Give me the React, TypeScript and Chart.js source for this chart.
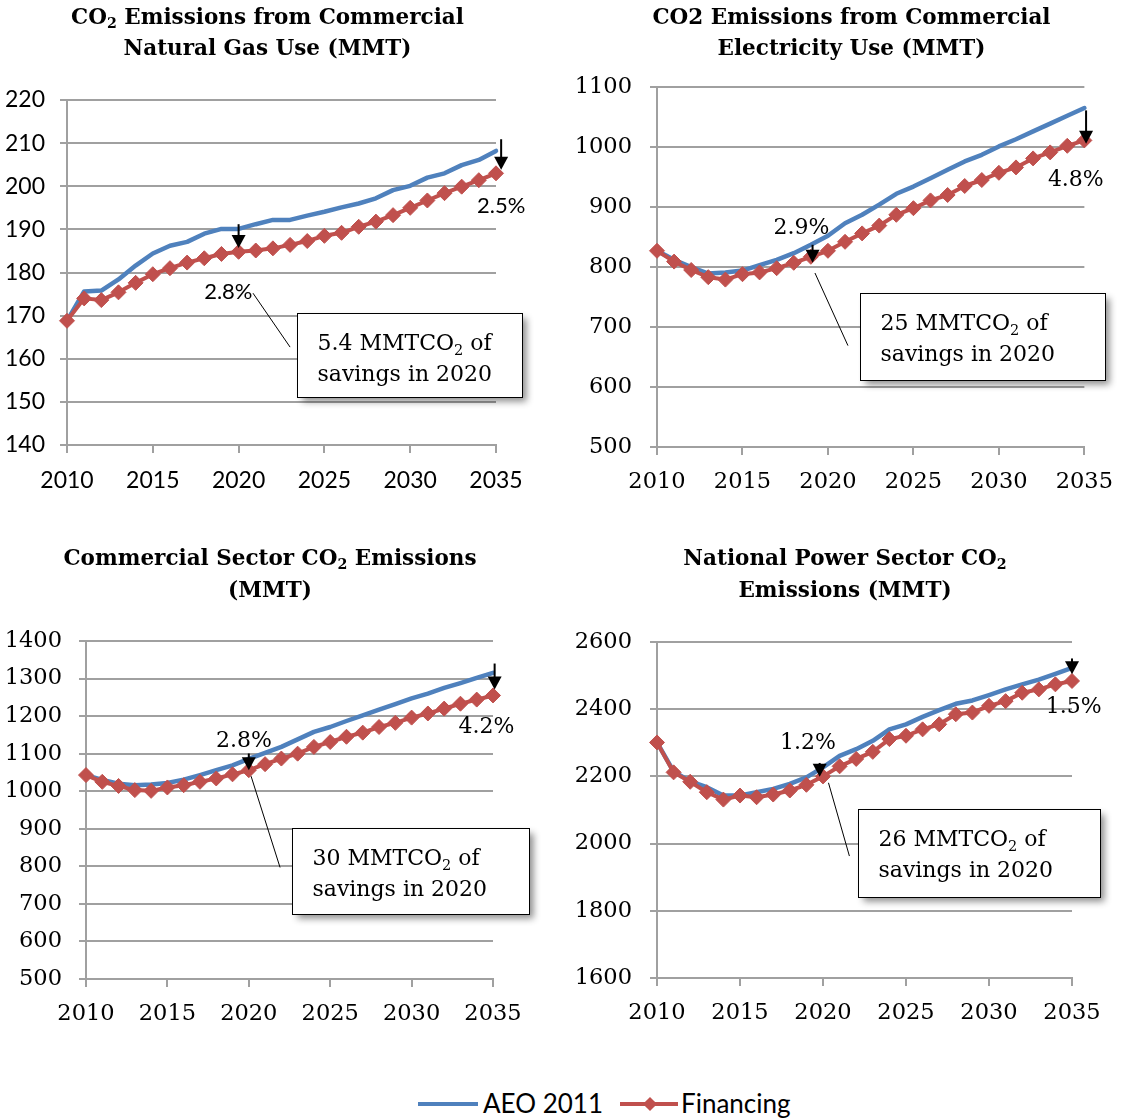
import React, { useEffect, useRef } from 'react';
import { Chart, registerables } from 'chart.js';

Chart.register(...registerables);

// ---------------- data ----------------
const YEARS = [2010, 2011, 2012, 2013, 2014, 2015, 2016, 2017, 2018, 2019, 2020, 2021, 2022, 2023, 2024, 2025, 2026, 2027, 2028, 2029, 2030, 2031, 2032, 2033, 2034, 2035];

const NG_AEO = [168.8, 175.6, 175.8, 178.4, 181.6, 184.4, 186.2, 187.1, 189.0, 190.1, 190.1, 191.2, 192.2, 192.2, 193.2, 194.1, 195.1, 196.0, 197.2, 199.1, 200.1, 202.0, 203.0, 204.9, 206.1, 208.2];
const NG_FIN = [168.8, 174.0, 173.6, 175.4, 177.6, 179.6, 181.0, 182.3, 183.3, 184.3, 184.8, 185.1, 185.6, 186.4, 187.3, 188.5, 189.2, 190.6, 191.8, 193.3, 195.0, 196.7, 198.4, 199.9, 201.4, 203.0];

const EL_AEO = [827, 812, 800, 789, 791, 794, 803, 812, 823, 837, 852, 873, 887, 904, 922, 934, 948, 962, 976, 987, 1001, 1013, 1026, 1039, 1052, 1065];
const EL_FIN = [827, 809, 795, 783, 779, 788, 791, 798, 807, 817, 827, 842, 856, 869, 887, 898, 911, 920, 935, 945, 957, 966, 981, 991, 1002, 1011];

const CM_AEO = [1043, 1030, 1020, 1016, 1018, 1022, 1031, 1043, 1056, 1069, 1086, 1102, 1118, 1138, 1158, 1171, 1187, 1202, 1217, 1232, 1247, 1260, 1275, 1288, 1302, 1315];
const CM_FIN = [1043, 1025, 1014, 1003, 1001, 1010, 1016, 1025, 1034, 1045, 1056, 1072, 1087, 1100, 1118, 1131, 1145, 1156, 1171, 1182, 1196, 1207, 1220, 1233, 1244, 1255];

const PW_AEO = [2301, 2215, 2185, 2168, 2143, 2143, 2153, 2163, 2178, 2197, 2227, 2261, 2281, 2306, 2340, 2355, 2377, 2397, 2416, 2426, 2442, 2459, 2474, 2488, 2505, 2523];
const PW_FIN = [2301, 2212, 2184, 2153, 2131, 2143, 2138, 2146, 2158, 2175, 2200, 2230, 2252, 2273, 2311, 2321, 2340, 2355, 2385, 2390, 2410, 2424, 2449, 2459, 2474, 2484];

const SERIES_NAMES = ['AEO 2011', 'Financing'];

// ---------------- style ----------------
const BLUE = '#4F81BD';
const RED = '#C0504D';
const GRID = '#A0A0A0';
const SERIF = '"DejaVu Serif"';
const SANS = 'Lato';

type Cfg = any;

const PANELS: Cfg[] = [
  {
    aeo: NG_AEO, fin: NG_FIN,
    left: 0, top: 0, w: 563, h: 530,
    yMin: 140, yMax: 220, yStep: 10,
    yw: 67, padTop: 100, padRight: 67, padBottom: 35,
    tickFamily: SANS, tickSize: 23, yPad: 15, xPad: 14,
    title: ['CO{2} Emissions from Commercial', 'Natural Gas Use (MMT)'], titleX: 267.5, titleY: [16, 47],
    arrows: [[2020, 191.2, 185.7], [2035.3, 210.9, 203.8]],
    pcts: [['2.8%', 2019.4, 175.6], ['2.5%', 2035.3, 195.7]], pctFamily: SANS,
    leader: [2020.84, 175.2, 2023.0, 162.7],
    box: [2023.39, 170.7, 2036.5, 151.2],
    boxText: ['5.4 MMTCO{2} of', 'savings in 2020'],
  },
  {
    aeo: EL_AEO, fin: EL_FIN,
    left: 563, top: 0, w: 564, h: 530,
    yMin: 500, yMax: 1100, yStep: 100,
    yw: 94, padTop: 87, padRight: 29, padBottom: 33,
    tickFamily: SERIF, tickSize: 22.5, yPad: 18, xPad: 14,
    title: ['CO2 Emissions from Commercial', 'Electricity Use (MMT)'], titleX: 288.5, titleY: [16, 47],
    arrows: [[2019.1, 837, 807], [2035.1, 1061, 1005.5]],
    pcts: [['2.9%', 2018.45, 868], ['4.8%', 2034.5, 949]], pctFamily: SERIF,
    leader: [2019.24, 790, 2021.17, 669],
    box: [2021.85, 756.7, 2036.21, 612.2],
    boxText: ['25 MMTCO{2} of', 'savings in 2020'],
  },
  {
    aeo: CM_AEO, fin: CM_FIN,
    left: 0, top: 530, w: 563, h: 540,
    yMin: 500, yMax: 1400, yStep: 100,
    yw: 86, padTop: 111, padRight: 70, padBottom: 41,
    tickFamily: SERIF, tickSize: 22.5, yPad: 17, xPad: 14,
    title: ['Commercial Sector CO{2} Emissions', '(MMT)'], titleX: 270, titleY: [27, 59],
    arrows: [[2020, 1100.5, 1056], [2035.1, 1340, 1271]],
    pcts: [['2.8%', 2019.7, 1138], ['4.2%', 2034.6, 1176]], pctFamily: SERIF,
    leader: [2020.14, 1040, 2021.92, 797],
    box: [2022.64, 902.7, 2037.19, 673.1],
    boxText: ['30 MMTCO{2} of', 'savings in 2020'],
  },
  {
    aeo: PW_AEO, fin: PW_FIN,
    left: 563, top: 530, w: 564, h: 540,
    yMin: 1600, yMax: 2600, yStep: 200,
    yw: 94, padTop: 112, padRight: 55, padBottom: 42,
    tickFamily: SERIF, tickSize: 22.5, yPad: 18, xPad: 14,
    title: ['National Power Sector CO{2}', 'Emissions (MMT)'], titleX: 282, titleY: [27, 59],
    arrows: [[2019.8, 2240, 2199], [2035, 2551, 2504]],
    pcts: [['1.2%', 2019.1, 2306], ['1.5%', 2035.1, 2412]], pctFamily: SERIF,
    leader: [2020.33, 2181, 2021.59, 1963],
    box: [2022.13, 2102, 2036.7, 1840],
    boxText: ['26 MMTCO{2} of', 'savings in 2020'],
  },
];

// ---------------- rich text helper ----------------
function parseRich(text: string) {
  const parts: { t: string; sub: boolean }[] = [];
  const re = /\{([^}]*)\}/g;
  let last = 0;
  let m: RegExpExecArray | null;
  while ((m = re.exec(text))) {
    if (m.index > last) parts.push({ t: text.slice(last, m.index), sub: false });
    parts.push({ t: m[1], sub: true });
    last = m.index + m[0].length;
  }
  if (last < text.length) parts.push({ t: text.slice(last), sub: false });
  return parts;
}

function drawRich(ctx: CanvasRenderingContext2D, text: string, x: number, centerY: number, size: number, family: string, weight: string, align: 'left' | 'center') {
  const parts = parseRich(text);
  const subSize = size * 0.66;
  const fontFor = (sub: boolean) => `${weight} ${sub ? subSize : size}px ${family}`;
  const widths = parts.map((p) => {
    ctx.font = fontFor(p.sub);
    return ctx.measureText(p.t).width;
  });
  const total = widths.reduce((a, b) => a + b, 0);
  let cx = align === 'center' ? x - total / 2 : x;
  const baseline = centerY + size * 0.36;
  ctx.textAlign = 'left';
  ctx.textBaseline = 'alphabetic';
  parts.forEach((p, i) => {
    ctx.font = fontFor(p.sub);
    ctx.fillText(p.t, cx, p.sub ? baseline + size * 0.22 : baseline);
    cx += widths[i];
  });
}

function makeAnnotations(cfg: Cfg) {
  return {
    id: 'annotations',
    afterDraw(chart: any) {
      const ctx: CanvasRenderingContext2D = chart.ctx;
      const xs = chart.scales.x;
      const ys = chart.scales.y;
      const px = (v: number) => xs.getPixelForValue(v);
      const py = (v: number) => ys.getPixelForValue(v);
      ctx.save();
      ctx.fillStyle = '#000';

      // titles
      cfg.title.forEach((line: string, i: number) => {
        drawRich(ctx, line, cfg.titleX, cfg.titleY[i], 21.5, SERIF, 'bold', 'center');
      });

      // leader line
      const [lx1, ly1, lx2, ly2] = cfg.leader;
      ctx.strokeStyle = '#000';
      ctx.lineWidth = 1;
      ctx.beginPath();
      ctx.moveTo(px(lx1), py(ly1));
      ctx.lineTo(px(lx2), py(ly2));
      ctx.stroke();

      // box with shadow
      const [bx1, by1, bx2, by2] = cfg.box;
      const L = Math.round(px(bx1)) + 0.5;
      const T = Math.round(py(by1)) + 0.5;
      const R = Math.round(px(bx2)) + 0.5;
      const B = Math.round(py(by2)) + 0.5;
      ctx.save();
      ctx.shadowColor = 'rgba(0,0,0,0.45)';
      ctx.shadowBlur = 7;
      ctx.shadowOffsetX = 4;
      ctx.shadowOffsetY = 4;
      ctx.fillStyle = '#fff';
      ctx.fillRect(L, T, R - L, B - T);
      ctx.restore();
      ctx.strokeStyle = '#000';
      ctx.lineWidth = 1;
      ctx.strokeRect(L, T, R - L, B - T);
      ctx.fillStyle = '#000';
      drawRich(ctx, cfg.boxText[0], L + 20, T + 28.5, 22, SERIF, 'normal', 'left');
      drawRich(ctx, cfg.boxText[1], L + 20, T + 60, 22, SERIF, 'normal', 'left');

      // percent labels
      cfg.pcts.forEach(([t, x, y]: [string, number, number]) => {
        drawRich(ctx, t, px(x), py(y), 22, cfg.pctFamily, 'normal', 'center');
      });

      // arrows
      cfg.arrows.forEach(([x, top, tip]: [number, number, number]) => {
        const X = px(x);
        const Yt = py(top);
        const Yp = py(tip);
        const headH = 13;
        const headW = 7;
        if (Yp - headH > Yt) {
          ctx.fillRect(X - 1, Yt, 2, Yp - headH - Yt + 1);
        }
        ctx.beginPath();
        ctx.moveTo(X - headW, Yp - headH);
        ctx.lineTo(X + headW, Yp - headH);
        ctx.lineTo(X, Yp);
        ctx.closePath();
        ctx.fill();
      });
      ctx.restore();
    },
  };
}

function Panel({ cfg }: { cfg: Cfg }) {
  const ref = useRef<HTMLCanvasElement | null>(null);
  useEffect(() => {
    if (!ref.current) return;
    const font = { family: cfg.tickFamily, size: cfg.tickSize };
    const chart = new Chart(ref.current, {
      type: 'line',
      data: {
        datasets: [
          {
            label: SERIES_NAMES[0],
            data: YEARS.map((y, i) => ({ x: y, y: cfg.aeo[i] })),
            borderColor: BLUE,
            backgroundColor: BLUE,
            borderWidth: 4.5,
            pointRadius: 0,
            tension: 0,
            borderJoinStyle: 'round',
            borderCapStyle: 'round',
            order: 1,
            clip: false,
          },
          {
            label: SERIES_NAMES[1],
            data: YEARS.map((y, i) => ({ x: y, y: cfg.fin[i] })),
            borderColor: RED,
            backgroundColor: RED,
            borderWidth: 4,
            pointStyle: 'rectRot',
            pointRadius: 7.5,
            pointBackgroundColor: RED,
            pointBorderColor: RED,
            pointBorderWidth: 1,
            tension: 0,
            borderJoinStyle: 'round',
            order: 0,
            clip: false,
          },
        ],
      },
      options: {
        responsive: false,
        animation: false,
        devicePixelRatio: 1,
        events: [],
        layout: { padding: { left: 0, top: cfg.padTop, right: cfg.padRight, bottom: cfg.padBottom } },
        plugins: { legend: { display: false }, tooltip: { enabled: false }, title: { display: false } },
        scales: {
          x: {
            type: 'linear',
            min: 2010,
            max: 2035,
            ticks: { stepSize: 5, callback: (v: any) => String(v), font, color: '#000', padding: cfg.xPad, maxRotation: 0, autoSkip: false },
            grid: { drawOnChartArea: false, drawTicks: true, tickLength: 8, color: GRID, lineWidth: 2 },
            border: { display: true, color: GRID, width: 2 },
            afterFit: (s: any) => { s.height = 50; },
          },
          y: {
            type: 'linear',
            min: cfg.yMin,
            max: cfg.yMax,
            ticks: { stepSize: cfg.yStep, callback: (v: any) => String(v), font, color: '#000', padding: cfg.yPad },
            grid: { color: GRID, lineWidth: 2, tickLength: 7, drawTicks: true },
            border: { display: true, color: GRID, width: 2 },
            afterFit: (s: any) => { s.width = cfg.yw; },
          },
        },
      },
      plugins: [makeAnnotations(cfg)],
    } as any);
    return () => chart.destroy();
  }, [cfg]);
  return (
    <canvas
      ref={ref}
      width={cfg.w}
      height={cfg.h}
      style={{ position: 'absolute', left: cfg.left, top: cfg.top, width: cfg.w, height: cfg.h }}
    />
  );
}

function Legend() {
  const text: React.CSSProperties = {
    position: 'absolute',
    top: 1087,
    height: 32,
    lineHeight: '32px',
    fontFamily: SANS,
    fontSize: 26,
    color: '#000',
    whiteSpace: 'nowrap',
  };
  return (
    <>
      <div style={{ position: 'absolute', left: 418, top: 1102, width: 60, height: 4, background: BLUE }} />
      <div style={{ ...text, left: 483 }}>{SERIES_NAMES[0]}</div>
      <div style={{ position: 'absolute', left: 620, top: 1102, width: 58, height: 4, background: RED }} />
      <div
        style={{
          position: 'absolute',
          left: 650 - 5,
          top: 1104 - 5,
          width: 10,
          height: 10,
          background: RED,
          transform: 'rotate(45deg)',
        }}
      />
      <div style={{ ...text, left: 681 }}>{SERIES_NAMES[1]}</div>
    </>
  );
}

export default function App() {
  return (
    <div style={{ position: 'absolute', left: 0, top: 0, width: 1127, height: 1120, background: '#fff', overflow: 'hidden' }}>
      {PANELS.map((cfg, i) => (
        <Panel key={i} cfg={cfg} />
      ))}
      <Legend />
    </div>
  );
}
